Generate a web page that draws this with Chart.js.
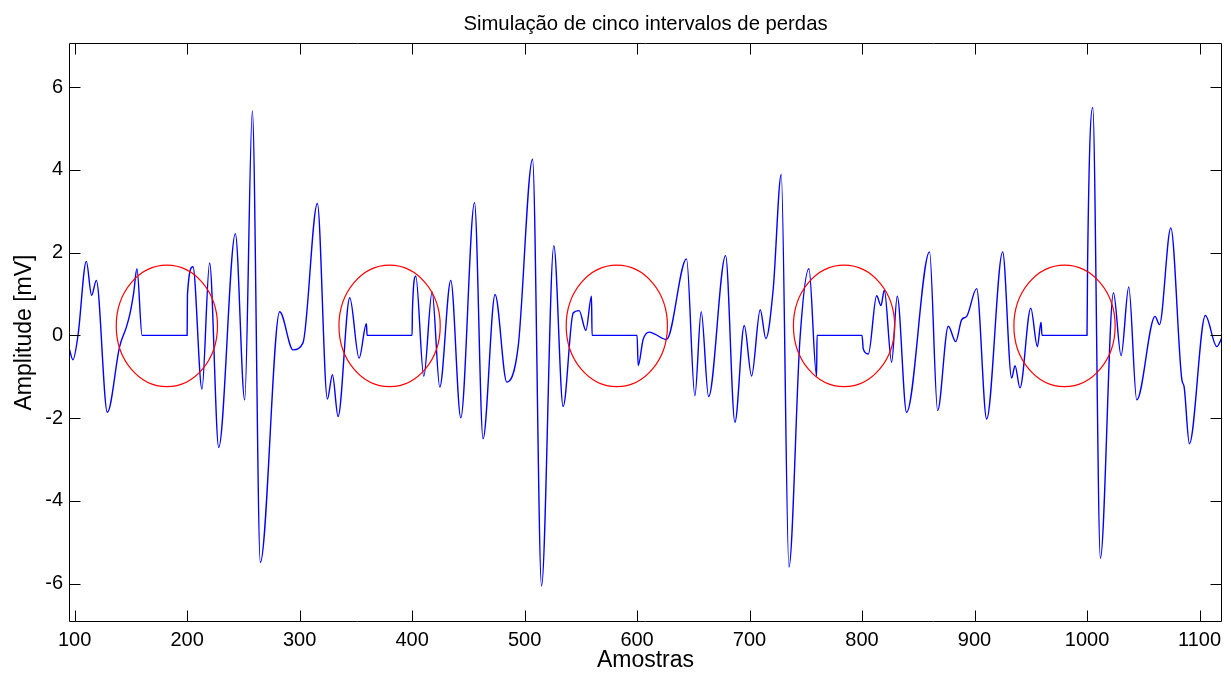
<!DOCTYPE html>
<html>
<head>
<meta charset="utf-8">
<title>Simulação de cinco intervalos de perdas</title>
<script src="https://cdn.jsdelivr.net/npm/chart.js@4.4.0/dist/chart.umd.min.js"></script>
<style>
  body { margin: 0; background: #fff; }
  #wrap { width: 1231px; height: 675px; }
</style>
</head>
<body>
<div id="wrap"><canvas id="sinal" width="1231" height="675"></canvas></div>
<script>
// amostras (x) e amplitude em mV (y), com os trechos zerados das perdas
const amostras = [
  95, 98.5, 103, 110.4, 115.1, 119.3, 129.1, 140, 146, 149, 152.5, 155.4, 160,
  200, 200.3, 205.2, 213.2, 220, 228.1, 242.9, 251.2, 258, 265.1, 282.3, 294.2, 303,
  315.8, 324.7, 329.2, 334.2, 344.6, 352.9, 359.4, 360,
  400, 400.3, 403.3, 410.4, 417.8, 424.6, 434.4, 443.3, 455.5, 463.1, 473.8, 484.2,
  494.3, 507.1, 515.1, 526, 534.3, 543.2, 548.5, 554.5, 559.5, 560,
  600, 601, 605.4, 610.8, 615.8, 626.2, 644, 651.4, 657, 663.6, 678.7, 687, 695.3,
  701.8, 709.5, 714.5, 721, 728.2, 735, 744.8, 752.8, 759.6, 760,
  800, 801.1, 805.6, 813, 816.8, 819.8, 826.3, 831.3, 839.6, 860, 867.2, 876.7,
  883.3, 888.6, 893, 901.9, 910.8, 925, 933, 936, 940.4, 950, 955.9, 959.1, 960,
  1000, 1000.5, 1005.1, 1011.9, 1023.5, 1030.3, 1037.1, 1044.2, 1060.5, 1064.4,
  1074.5, 1084.3, 1086.3, 1091, 1105.2, 1115.4, 1120
];
const amplitude = [
  -0.30, -0.59, 0.0, 1.79, 0.97, 1.33, -1.86, -0.27, 0.20, 0.50, 1.03, 1.61, 0,
  0, 0.99, 1.66, -1.30, 1.75, -2.71, 2.46, -1.56, 5.43, -5.49, 0.57, -0.35, -0.18,
  3.19, -1.54, -0.95, -1.96, 0.91, -0.55, 0.28, 0,
  0, 0.6, 1.43, -0.99, 1.05, -1.25, 1.33, -1.99, 3.21, -2.50, 0.99, -1.13,
  -0.27, 4.26, -6.06, 2.17, -1.72, 0.54, 0.60, 0.12, 0.95, 0,
  0, -0.73, -0.10, 0.08, 0.03, -0.10, 1.85, -1.46, 0.57, -1.48, 1.93, -2.10, 0.24,
  -0.98, 0.62, -0.08, 1.11, 3.89, -5.60, -0.10, 1.61, -0.99, 0,
  0, -0.33, -0.45, 0.96, 0.72, 1.09, -0.65, 0.95, -1.86, 2.02, -1.82, 0.22,
  -0.15, 0.38, 0.46, 1.13, -2.02, 2.02, -1.03, -0.73, -1.27, 0.66, -0.27, 0.32, 0,
  0, 1.7, 5.51, -5.39, 1.03, -0.49, 1.17, -1.56, 0.46, 0.26,
  2.60, -1.07, -1.24, -2.62, 0.48, -0.27, -0.05
];

// centros das marcas de perda (amostra) e semi-eixos em unidades dos eixos
const centrosPerda = [182, 380, 582, 784, 980];
const centroAmp = 0.23;
const raioAmostras = 45;
const raioAmp = 1.47;

const xTicks = [100, 200, 300, 400, 500, 600, 700, 800, 900, 1000, 1100];
const yTicks = [-6, -4, -2, 0, 2, 4, 6];

const titulo = "Simulação de cinco intervalos de perdas";

const pontos = amostras.map((x, i) => ({ x: x, y: amplitude[i] }));

Chart.defaults.font.family = "'Liberation Sans', Arial, sans-serif";
Chart.defaults.color = "#000";

// titulo centrado na area do grafico, circulos vermelhos e moldura com marcas internas
const moldura = {
  id: "moldura",
  afterDatasetsDraw(chart) {
    const { ctx, chartArea: a, scales: { x, y } } = chart;
    ctx.save();

    ctx.strokeStyle = "#ff0000";
    ctx.lineWidth = 1.2;
    centrosPerda.forEach(c => {
      const cx = x.getPixelForValue(c);
      const cy = y.getPixelForValue(centroAmp);
      const rx = Math.abs(x.getPixelForValue(c + raioAmostras) - cx);
      const ry = Math.abs(y.getPixelForValue(centroAmp + raioAmp) - cy);
      ctx.beginPath();
      ctx.ellipse(cx, cy, rx, ry, 0, 0, Math.PI * 2);
      ctx.stroke();
    });

    const L = Math.round(a.left) + 0.5, R = Math.round(a.right) - 0.5;
    const T = Math.round(a.top) + 0.5, B = Math.round(a.bottom) - 0.5;
    const tam = 11;
    ctx.strokeStyle = "#000";
    ctx.lineWidth = 1;
    ctx.beginPath();
    ctx.rect(L, T, R - L, B - T);
    xTicks.forEach(v => {
      const px = Math.round(x.getPixelForValue(v)) + 0.5;
      ctx.moveTo(px, B); ctx.lineTo(px, B - tam);
      ctx.moveTo(px, T); ctx.lineTo(px, T + tam);
    });
    yTicks.forEach(v => {
      const py = Math.round(y.getPixelForValue(v)) + 0.5;
      ctx.moveTo(L, py); ctx.lineTo(L + tam, py);
      ctx.moveTo(R, py); ctx.lineTo(R - tam, py);
    });
    ctx.stroke();

    ctx.fillStyle = "#000";
    ctx.font = "20.3px 'Liberation Sans', Arial, sans-serif";
    ctx.textAlign = "center";
    ctx.textBaseline = "middle";
    ctx.fillText(titulo, (a.left + a.right) / 2, 24);
    ctx.restore();
  }
};

new Chart(document.getElementById("sinal"), {
  type: "line",
  data: {
    datasets: [{
      data: pontos,
      borderColor: "#0000ff",
      borderWidth: 1.4,
      pointRadius: 0,
      cubicInterpolationMode: "monotone",
      fill: false
    }]
  },
  options: {
    responsive: false,
    animation: false,
    layout: { padding: { left: 0, right: 9, top: 43, bottom: 0 } },
    plugins: {
      legend: { display: false },
      tooltip: { enabled: false },
      title: { display: false }
    },
    scales: {
      x: {
        type: "linear",
        min: 95,
        max: 1120,
        afterBuildTicks: s => { s.ticks = xTicks.map(v => ({ value: v })); },
        afterFit: s => { s.height = 53; },
        grid: { display: false, drawTicks: false },
        border: { display: false },
        ticks: { font: { size: 20 }, padding: 6, maxRotation: 0, callback: v => String(v) },
        title: { display: true, text: "Amostras", font: { size: 23 }, padding: { top: 0, bottom: 1 } }
      },
      y: {
        type: "linear",
        min: -6.93,
        max: 7.07,
        afterBuildTicks: s => { s.ticks = yTicks.map(v => ({ value: v })); },
        afterFit: s => { s.width = 69; },
        grid: { display: false, drawTicks: false },
        border: { display: false },
        ticks: { font: { size: 20 }, padding: 6, callback: v => String(v) },
        title: { display: true, text: "Amplitude [mV]", font: { size: 23 }, padding: { top: 11, bottom: 0 } }
      }
    }
  },
  plugins: [moldura]
});
</script>
</body>
</html>
